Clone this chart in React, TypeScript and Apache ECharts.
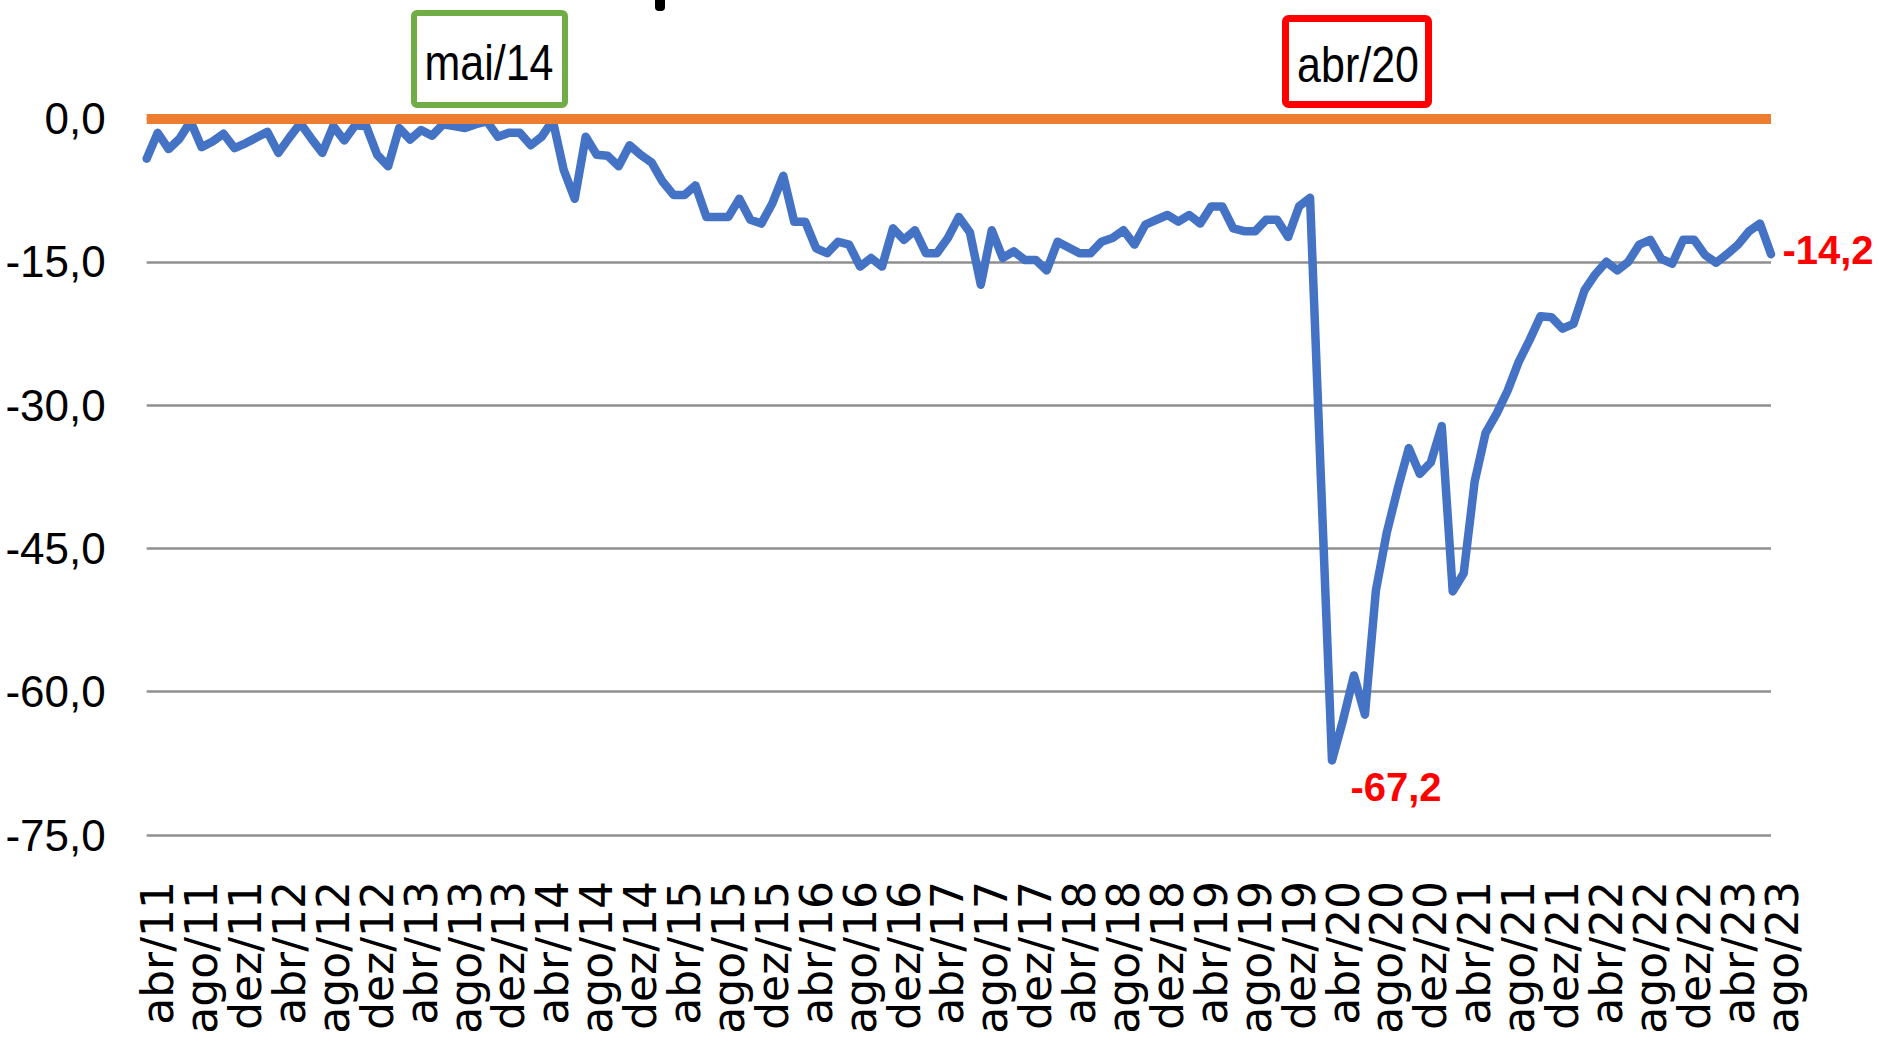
import React, { useEffect, useRef } from "react";
import * as echarts from "echarts";

// Month abbreviations (pt-BR) used for the category axis
const monthNames = ["jan", "fev", "mar", "abr", "mai", "jun", "jul", "ago", "set", "out", "nov", "dez"];
const firstYear = 2011;
const firstMonth = 3; // abr
const lastYear = 2023;
const lastMonth = 7; // ago

// Values, per year
const v2011 = [-4.2, -1.5, -3.2, -2.1, -0.3, -3.0, -2.4, -1.6, -3.1];
const v2012 = [-2.6, -2.0, -1.4, -3.6, -2.0, -0.5, -2.1, -3.6, -0.8, -2.3, -0.7, -0.8];
const v2013 = [-3.8, -5.0, -1.0, -2.2, -1.2, -1.8, -0.6, -0.8, -1.0, -0.6, -0.3, -1.9];
const v2014 = [-1.5, -1.5, -2.8, -1.9, -0.2, -5.4, -8.4, -1.9, -3.8, -3.9, -5.0, -2.8];
const v2015 = [-3.8, -4.6, -6.6, -8.0, -8.0, -7.0, -10.3, -10.3, -10.3, -8.4, -10.6, -11.0];
const v2016 = [-8.9, -6.0, -10.8, -10.8, -13.6, -14.1, -12.9, -13.2, -15.5, -14.6, -15.5, -11.5];
const v2017 = [-12.7, -11.7, -14.1, -14.1, -12.5, -10.3, -11.9, -17.4, -11.7, -14.6, -13.9, -14.8];
const v2018 = [-14.8, -15.9, -12.9, -13.5, -14.1, -14.1, -12.9, -12.5, -11.7, -13.2, -11.1, -10.6];
const v2019 = [-10.1, -10.8, -10.1, -11.0, -9.2, -9.2, -11.5, -11.8, -11.8, -10.6, -10.6, -12.4];
const v2020 = [-9.2, -8.3, -38.0, -67.2, -63.0, -58.3, -62.4, -49.4, -43.3, -38.7, -34.5, -37.2];
const v2021 = [-36.0, -32.2, -49.5, -47.6, -38.0, -32.9, -30.9, -28.5, -25.5, -23.2, -20.7, -20.8];
const v2022 = [-22.0, -21.5, -18.0, -16.3, -15.0, -15.9, -15.0, -13.2, -12.7, -14.7, -15.2, -12.7];
const v2023 = [-12.7, -14.3, -15.1, -14.2, -13.2, -11.8, -11.0, -14.2];

// Y axis ticks
const yMin = -75;
const yMax = 0;
const yStep = 15;

// Annotation boxes
const boxLabels = ["mai/14", "abr/20"];

const values = [
  ...v2011, ...v2012, ...v2013, ...v2014, ...v2015, ...v2016, ...v2017,
  ...v2018, ...v2019, ...v2020, ...v2021, ...v2022, ...v2023,
];

const categories: string[] = [];
for (let y = firstYear; y <= lastYear; y++) {
  const m0 = y === firstYear ? firstMonth : 0;
  const m1 = y === lastYear ? lastMonth : 11;
  for (let m = m0; m <= m1; m++) {
    categories.push(`${monthNames[m]}/${String(y).slice(2)}`);
  }
}

const fmt = (v: number) => v.toFixed(1).replace(".", ",");
const SANS = "'Liberation Sans', Arial, sans-serif";

export default function App() {
  const ref = useRef<HTMLDivElement>(null);
  useEffect(() => {
    if (!ref.current) return;
    const chart = echarts.init(ref.current, undefined, { renderer: "svg" });
    const minIdx = categories.indexOf("abr/20");
    const lastIdx = values.length - 1;
    chart.setOption({
      animation: false,
      backgroundColor: "#ffffff",
      grid: { left: 146.7, right: 108, top: 118.5, bottom: 208, outerBoundsMode: "none", containLabel: false },
      xAxis: {
        type: "category",
        data: categories,
        boundaryGap: false,
        axisLine: { show: false },
        axisTick: { show: false },
        axisLabel: {
          interval: 3,
          rotate: 90,
          margin: 46,
          verticalAlign: "top",
          lineHeight: 22,
          fontFamily: "DejaVu Sans",
          fontSize: 44,
          color: "#000000",
        },
        splitLine: { show: false },
      },
      yAxis: {
        type: "value",
        min: yMin,
        max: yMax,
        interval: yStep,
        axisLine: { show: false },
        axisTick: { show: false },
        axisLabel: {
          margin: 41,
          fontFamily: SANS,
          fontSize: 44,
          color: "#000000",
          formatter: (v: number) => fmt(v),
        },
        splitLine: { lineStyle: { color: "#8f8f8f", width: 2.5 } },
      },
      series: [
        {
          type: "line",
          data: values,
          symbol: "none",
          z: 2,
          lineStyle: { color: "#4472C4", width: 8.5, cap: "round", join: "round" },
          markPoint: {
            symbol: "circle",
            symbolSize: 0,
            data: [
              {
                coord: [minIdx, values[minIdx]],
                value: values[minIdx],
                label: { offset: [64, 27] },
              },
              {
                coord: [lastIdx, values[lastIdx]],
                value: values[lastIdx],
                label: { offset: [57, -4] },
              },
            ],
            label: {
              show: true,
              position: "inside",
              formatter: (p: any) => fmt(p.value),
              fontFamily: SANS,
              fontWeight: "bold",
              fontSize: 40,
              color: "#FF0000",
            },
          },
        },
        {
          type: "line",
          data: [],
          z: 3,
          markLine: {
            silent: true,
            symbol: "none",
            label: { show: false },
            lineStyle: { color: "#ED7D31", width: 10, type: "solid" },
            data: [{ yAxis: 0 }],
          },
        },
      ],
      graphic: [
        { type: "rect", left: 655, top: 0, shape: { width: 10, height: 11, r: [0, 0, 4, 4] }, style: { fill: "#000000" } },
        {
          type: "rect",
          shape: { x: 414, y: 13, width: 151, height: 92, r: 3 },
          style: { fill: "#ffffff", stroke: "#70AD47", lineWidth: 6 },
          z: 10,
        },
        {
          type: "text",
          x: 489,
          y: 63,
          scaleX: 0.86,
          style: { text: boxLabels[0], fontFamily: SANS, fontSize: 50, fill: "#000000", align: "center", verticalAlign: "middle" },
          z: 11,
        },
        {
          type: "rect",
          shape: { x: 1285.5, y: 18.5, width: 143, height: 86, r: 3 },
          style: { fill: "#ffffff", stroke: "#FF0000", lineWidth: 7 },
          z: 10,
        },
        {
          type: "text",
          x: 1358,
          y: 65,
          scaleX: 0.86,
          style: { text: boxLabels[1], fontFamily: SANS, fontSize: 50, fill: "#000000", align: "center", verticalAlign: "middle" },
          z: 11,
        },
      ],
    });
    return () => chart.dispose();
  }, []);
  return (
    <div
      ref={ref}
      style={{ position: "fixed", left: 0, top: 0, width: "1879px", height: "1043px", background: "#fff" }}
    />
  );
}
